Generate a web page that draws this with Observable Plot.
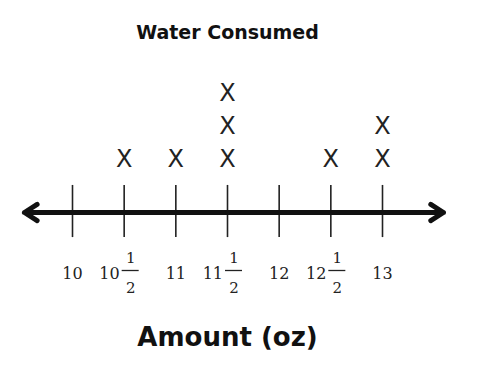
<!DOCTYPE html>
<html><head><meta charset="utf-8">
<script src="https://cdn.jsdelivr.net/npm/d3@7"></script>
<script src="https://cdn.jsdelivr.net/npm/@observablehq/plot@0.6"></script>
<style>body{margin:0;background:#fff}</style>
</head><body><div id="chart"></div>
<script>
const title = "Water Consumed";
const axisLabel = "Amount (oz)";
const amounts = [10.5, 11, 11.5, 11.5, 11.5, 12.5, 13, 13];
const tickValues = [10, 10.5, 11, 11.5, 12, 12.5, 13];
const wholeParts = ["10", "10", "11", "11", "12", "12", "13"];
const numerators = ["", "1", "", "1", "", "1", ""];
const denominators = ["", "2", "", "2", "", "2", ""];
const axisExtent = [9.535, 13.59];
const axisCenter = 11.5;

const dots = amounts.map((v, i) => ({x: v, row: amounts.slice(0, i).filter(a => a === v).length + 1}));
const ticks = tickValues.map((v, i) => ({v, whole: wholeParts[i], num: numerators[i], den: denominators[i]}));
const wholeTicks = ticks.filter(d => !d.num);
const halfTicks = ticks.filter(d => d.num);
const serif = "DejaVu Serif";
const sans = "DejaVu Sans";

const chart = Plot.plot({
  width: 488, height: 376,
  marginTop: 0, marginBottom: 0, marginLeft: 0, marginRight: 34,
  x: {domain: [10, 13], range: [72, 382], axis: null},
  y: {domain: [0, 4], range: [212, 80], axis: null},
  style: {background: "#fff"},
  marks: [
    Plot.ruleX(tickValues, {x: d => d, y1: -0.76, y2: 0.82, stroke: "#222", strokeWidth: 1.6}),
    Plot.arrow([{from: axisCenter, to: axisExtent[0]}, {from: axisCenter, to: axisExtent[1]}], {
      x1: "from", x2: "to", y1: 0, y2: 0, stroke: "#111", strokeWidth: 5,
      headAngle: 65, headLength: 4.5, strokeLinecap: "round", strokeLinejoin: "round"
    }),
    Plot.text(wholeTicks, {x: "v", y: 0, text: "whole", fontFamily: serif, fontSize: 16, fill: "#222", lineAnchor: "bottom", dy: 66}),
    Plot.text(halfTicks, {x: "v", y: 0, text: "whole", fontFamily: serif, fontSize: 16, fill: "#222", lineAnchor: "bottom", textAnchor: "end", dx: -4.5, dy: 66}),
    Plot.text(halfTicks, {x: "v", y: 0, text: "num", fontFamily: serif, fontSize: 15, fill: "#222", lineAnchor: "bottom", dx: 6.5, dy: 50}),
    Plot.ruleY(halfTicks, {x1: "v", x2: "v", y: 0, insetLeft: -2, insetRight: -15, dy: 58, stroke: "#222", strokeWidth: 1.3}),
    Plot.text(halfTicks, {x: "v", y: 0, text: "den", fontFamily: serif, fontSize: 15, fill: "#222", lineAnchor: "bottom", dx: 6.5, dy: 80}),
    Plot.text(dots, {x: "x", y: d => d.row + 0.6, text: () => "X", fontFamily: sans, fontSize: 24, fill: "#222", lineAnchor: "middle"}),
    Plot.text([title], {frameAnchor: "top", text: d => d, fontFamily: sans, fontWeight: "bold", fontSize: 19, fill: "#111", lineAnchor: "bottom", dy: 38}),
    Plot.text([axisLabel], {frameAnchor: "bottom", text: d => d, fontFamily: sans, fontWeight: "bold", fontSize: 26, fill: "#111", lineAnchor: "bottom", dy: -31})
  ]
});
document.getElementById("chart").append(chart);
</script>
</body></html>
